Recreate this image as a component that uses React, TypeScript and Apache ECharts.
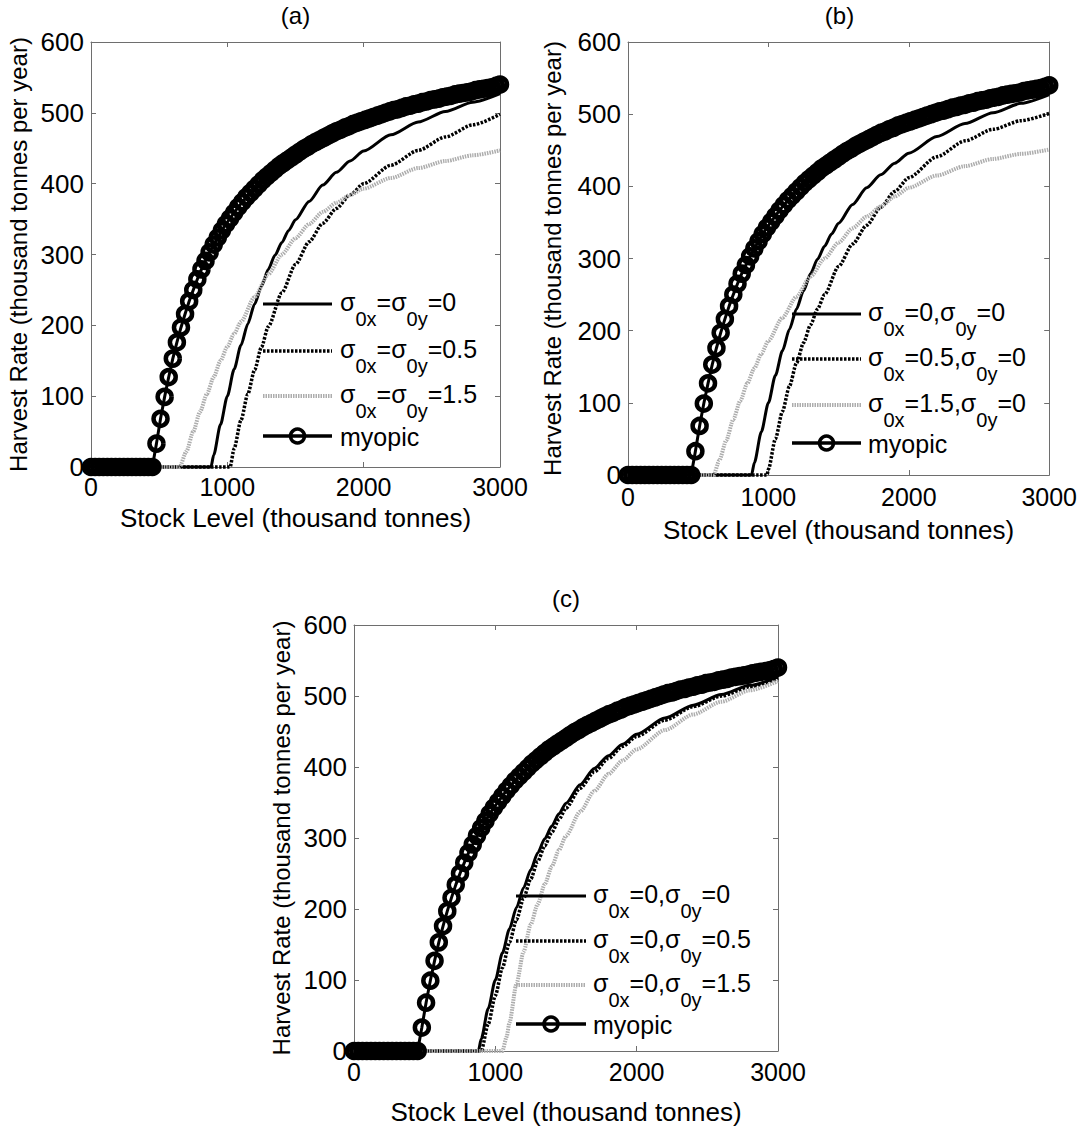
import React, { useEffect, useRef } from 'react';
import * as echarts from 'echarts';

const FONT = "'Liberation Sans', Arial, Helvetica, sans-serif";

// ---------- data ----------
// myopic rule, same in all panels (marker every 30 thousand tonnes)
const MYOPIC_X = [
  0, 30, 60, 90, 120, 150, 180, 210, 240, 270, 300, 330, 360, 390, 420, 450,
  480, 510, 540, 570, 600, 630, 660, 690, 720, 750,
  780, 810, 840, 870, 900, 930, 960, 990, 1020, 1050,
  1080, 1110, 1140, 1170, 1200, 1230, 1260, 1290, 1320, 1350,
  1380, 1410, 1440, 1470, 1500, 1530, 1560, 1590, 1620, 1650,
  1680, 1710, 1740, 1770, 1800, 1830, 1860, 1890, 1920, 1950,
  1980, 2010, 2040, 2070, 2100, 2130, 2160, 2190, 2220, 2250,
  2280, 2310, 2340, 2370, 2400, 2430, 2460, 2490, 2520, 2550,
  2580, 2610, 2640, 2670, 2700, 2730, 2760, 2790, 2820, 2850,
  2880, 2910, 2940, 2970, 3000,
];
const MYOPIC_Y = [
  0, 0, 0, 0, 0, 0, 0, 0, 0, 0, 0, 0, 0, 0, 0, 0,
  33, 68, 99, 127, 153, 176, 197, 216, 234, 250,
  265, 279, 291, 303, 314, 324, 334, 343, 351, 359,
  367, 374, 381, 387, 393, 399, 405, 410, 415, 420,
  425, 429, 433, 437, 441, 445, 449, 452, 456, 459,
  462, 465, 468, 471, 474, 476, 479, 481, 484, 486,
  488, 490, 492, 494, 496, 498, 500, 502, 504, 505,
  507, 509, 510, 512, 513, 515, 516, 518, 519, 520,
  522, 523, 524, 526, 527, 528, 529, 530, 532, 533,
  534, 535, 536, 538, 540,
];

// optimal rule without uncertainty (sigma0x = sigma0y = 0), same in all panels
const OPT0_X = [0, 880, 900, 950, 1000, 1050, 1100, 1150, 1200, 1250, 1300, 1350, 1400, 1450, 1500, 1600, 1700, 1800, 1900, 2000, 2200, 2400, 2600, 2800, 3000];
const OPT0_Y = [0, 0, 17, 60, 100, 138, 172, 202, 230, 255, 279, 299, 317, 334, 349, 375, 398, 416, 432, 446, 469, 487, 502, 515, 527];

// panel (a): sigma0x = sigma0y
const A_S05_X = [0, 1020, 1050, 1100, 1150, 1200, 1250, 1300, 1400, 1500, 1600, 1700, 1800, 1900, 2000, 2200, 2400, 2600, 2800, 3000];
const A_S05_Y = [0, 0, 26, 66, 103, 137, 169, 198, 246, 286, 318, 344, 365, 384, 400, 426, 447, 466, 483, 498];
const A_S15_X = [0, 650, 700, 750, 800, 850, 900, 950, 1000, 1050, 1100, 1200, 1300, 1400, 1500, 1600, 1700, 1800, 1900, 2000, 2200, 2400, 2600, 2800, 3000];
const A_S15_Y = [0, 0, 22, 50, 78, 103, 127, 150, 170, 188, 205, 240, 272, 300, 323, 343, 360, 373, 384, 393, 408, 422, 432, 440, 447];

// panel (b): sigma0y = 0
const B_S05_X = [0, 990, 1000, 1050, 1100, 1150, 1200, 1250, 1300, 1350, 1400, 1500, 1600, 1700, 1800, 1900, 2000, 2200, 2400, 2600, 2800, 3000];
const B_S05_Y = [0, 0, 8, 50, 88, 123, 155, 183, 208, 230, 250, 289, 320, 346, 371, 393, 412, 441, 463, 479, 491, 501];
const B_S15_X = [0, 610, 650, 700, 750, 800, 850, 900, 950, 1000, 1100, 1200, 1300, 1400, 1500, 1600, 1700, 1800, 1900, 2000, 2200, 2400, 2600, 2800, 3000];
const B_S15_Y = [0, 0, 20, 48, 77, 103, 127, 148, 168, 186, 218, 247, 275, 300, 322, 342, 358, 372, 386, 398, 415, 428, 438, 445, 451];

// panel (c): sigma0x = 0
const C_S05_X = [0, 900, 950, 1000, 1050, 1100, 1150, 1200, 1250, 1300, 1350, 1400, 1450, 1500, 1600, 1700, 1800, 1900, 2000, 2200, 2400, 2600, 2800, 3000];
const C_S05_Y = [0, 0, 38, 78, 117, 153, 185, 215, 242, 267, 289, 308, 326, 342, 370, 393, 412, 429, 443, 466, 485, 500, 513, 525];
const C_S15_X = [0, 1050, 1080, 1100, 1150, 1200, 1250, 1300, 1350, 1400, 1450, 1500, 1600, 1700, 1800, 1900, 2000, 2200, 2400, 2600, 2800, 3000];
const C_S15_Y = [0, 0, 20, 40, 95, 140, 178, 207, 235, 260, 283, 303, 337, 366, 390, 409, 425, 452, 474, 492, 508, 521];

const X_MIN = 0, X_MAX = 3000, X_STEP = 1000;
const Y_MIN = 0, Y_MAX = 600, Y_STEP = 100;

const PANEL_TITLES = ['(a)', '(b)', '(c)'];
const X_NAME = 'Stock Level (thousand tonnes)';
const Y_NAME = 'Harvest Rate (thousand tonnes per year)';

// legend texts (rich text: m = normal, s = subscript)
const LEGEND_A = [
  '{m|σ}{s|0x}{m|=σ}{s|0y}{m|=0}',
  '{m|σ}{s|0x}{m|=σ}{s|0y}{m|=0.5}',
  '{m|σ}{s|0x}{m|=σ}{s|0y}{m|=1.5}',
  '{m|myopic}',
];
const LEGEND_B = [
  '{m|σ}{s|0x}{m|=0,σ}{s|0y}{m|=0}',
  '{m|σ}{s|0x}{m|=0.5,σ}{s|0y}{m|=0}',
  '{m|σ}{s|0x}{m|=1.5,σ}{s|0y}{m|=0}',
  '{m|myopic}',
];
const LEGEND_C = [
  '{m|σ}{s|0x}{m|=0,σ}{s|0y}{m|=0}',
  '{m|σ}{s|0x}{m|=0,σ}{s|0y}{m|=0.5}',
  '{m|σ}{s|0x}{m|=0,σ}{s|0y}{m|=1.5}',
  '{m|myopic}',
];

// ---------- styles & layout ----------
const LINE_SOLID = { color: '#000', width: 3, type: 'solid' as any };
const LINE_DOT = { color: '#000', width: 3.5, type: [2.5, 1.5] as any };
const LINE_GRAY = { color: '#adadad', width: 4, type: [1.5, 1] as any };
const AXIS_COLOR = '#6e6e6e';

const PANELS = [
  {
    grid: { left: 91, top: 42, width: 409, height: 425 },
    title: { x: 295.5, y: 3 },
    xLabelMargin: 8, xNameGap: 37, yNameGap: 61,
    legend: { x1: 263, x2: 332, tx: 340, ys: [304, 351, 396, 436] },
    legendText: LEGEND_A,
    curves: [[OPT0_X, OPT0_Y], [A_S05_X, A_S05_Y], [A_S15_X, A_S15_Y]],
  },
  {
    grid: { left: 628, top: 42, width: 423, height: 433 },
    title: { x: 839.5, y: 3 },
    xLabelMargin: 10, xNameGap: 41, yNameGap: 64,
    legend: { x1: 792, x2: 861, tx: 868, ys: [314, 359, 405, 443] },
    legendText: LEGEND_B,
    curves: [[OPT0_X, OPT0_Y], [B_S05_X, B_S05_Y], [B_S15_X, B_S15_Y]],
  },
  {
    grid: { left: 354, top: 625, width: 424, height: 432 },
    title: { x: 566, y: 586 },
    xLabelMargin: 9, xNameGap: 47, yNameGap: 61,
    legend: { x1: 516, x2: 586, tx: 593, ys: [896, 941, 985, 1024] },
    legendText: LEGEND_C,
    curves: [[OPT0_X, OPT0_Y], [C_S05_X, C_S05_Y], [C_S15_X, C_S15_Y]],
  },
];

const toPairs = (xs: number[], ys: number[]) => xs.map((x, k) => [x, ys[k]]);

function buildOption() {
  const grid: any[] = [];
  const xAxis: any[] = [];
  const yAxis: any[] = [];
  const series: any[] = [];
  const title: any[] = [];
  const graphic: any[] = [];

  const tick = { inside: true, length: 5, lineStyle: { color: AXIS_COLOR, width: 1 } };
  const line = { show: true, onZero: false, lineStyle: { color: AXIS_COLOR, width: 1 } };
  const plain = (v: number) => String(v);

  PANELS.forEach((p, i) => {
    grid.push({ ...p.grid, containLabel: false });
    title.push({
      text: PANEL_TITLES[i], left: p.title.x, top: p.title.y, textAlign: 'center', padding: 0,
      textStyle: { fontSize: 24, fontWeight: 'normal', color: '#000', fontFamily: FONT },
    });
    const xBase = { gridIndex: i, type: 'value', min: X_MIN, max: X_MAX, interval: X_STEP, splitLine: { show: false }, axisLine: line, axisTick: tick };
    xAxis.push({
      ...xBase, position: 'bottom',
      axisLabel: { fontSize: 25, color: '#000', fontFamily: FONT, margin: p.xLabelMargin, formatter: plain, lineHeight: 24 },
      name: X_NAME, nameLocation: 'middle', nameGap: p.xNameGap,
      nameTextStyle: { fontSize: 26, color: '#000', fontFamily: FONT, lineHeight: 28 },
    });
    xAxis.push({ ...xBase, position: 'top', axisLabel: { show: false } });
    const yBase = { gridIndex: i, type: 'value', min: Y_MIN, max: Y_MAX, interval: Y_STEP, splitLine: { show: false }, axisLine: line, axisTick: tick };
    yAxis.push({
      ...yBase, position: 'left',
      axisLabel: { fontSize: 26, color: '#000', fontFamily: FONT, margin: 7, formatter: plain },
      name: Y_NAME, nameLocation: 'middle', nameGap: p.yNameGap,
      nameTextStyle: { fontSize: 24, color: '#000', fontFamily: FONT },
    });
    yAxis.push({ ...yBase, position: 'right', axisLabel: { show: false } });

    const styles = [LINE_SOLID, LINE_DOT, LINE_GRAY];
    p.curves.forEach((c, k) => {
      series.push({
        type: 'line', xAxisIndex: 2 * i, yAxisIndex: 2 * i,
        data: toPairs(c[0], c[1]), showSymbol: false, symbol: 'none',
        smooth: 0.25, smoothMonotone: 'x', clip: false, silent: true,
        lineStyle: styles[k], z: 2 + k,
      });
    });
    series.push({
      type: 'line', xAxisIndex: 2 * i, yAxisIndex: 2 * i,
      data: toPairs(MYOPIC_X, MYOPIC_Y), symbol: 'circle', symbolSize: 14,
      showSymbol: true, showAllSymbol: true, clip: false, silent: true,
      itemStyle: { color: 'rgba(0,0,0,0)', borderColor: '#000', borderWidth: 4.5 },
      lineStyle: { color: '#000', width: 3 }, z: 6,
    });

    // legend drawn as graphic so rows and sub-scripts sit as in the original
    const L = p.legend;
    const rich = {
      m: { fontSize: 25, fontFamily: FONT, lineHeight: 26, fill: '#000', color: '#000' },
      s: { fontSize: 20, fontFamily: FONT, lineHeight: 26, padding: [34, 0, 0, 0], fill: '#000', color: '#000' },
    };
    const lineStyles = [LINE_SOLID, LINE_DOT, LINE_GRAY, LINE_SOLID];
    L.ys.forEach((y, r) => {
      const ls = lineStyles[r];
      graphic.push({
        type: 'line', z: 100, silent: true,
        shape: { x1: L.x1, y1: y, x2: L.x2, y2: y },
        style: { stroke: ls.color, lineWidth: r === 3 ? 3.5 : ls.width, lineDash: Array.isArray(ls.type) ? ls.type : null },
      });
      if (r === 3) {
        graphic.push({
          type: 'circle', z: 101, silent: true,
          shape: { cx: (L.x1 + L.x2) / 2, cy: y, r: 7 },
          style: { fill: 'none', stroke: '#000', lineWidth: 3.5 },
        });
      }
      graphic.push({
        type: 'text', z: 100, silent: true, x: L.tx, y: r === 3 ? y + 1 : y - 2,
        style: {
          text: p.legendText[r], rich, fill: '#000',
          font: `25px ${FONT}`,
          align: 'left', verticalAlign: 'middle',
          textAlign: 'left', textVerticalAlign: 'middle',
        },
      });
    });
  });

  return {
    animation: false,
    backgroundColor: '#fff',
    title, grid, xAxis, yAxis, series, graphic,
  };
}

export default function App() {
  const ref = useRef<HTMLDivElement>(null);
  useEffect(() => {
    if (!ref.current) return;
    const chart = echarts.init(ref.current, undefined, { renderer: 'svg' });
    chart.setOption(buildOption() as any);
    return () => chart.dispose();
  }, []);
  return <div ref={ref} style={{ position: 'absolute', left: 0, top: 0, width: 1080, height: 1127 }} />;
}
